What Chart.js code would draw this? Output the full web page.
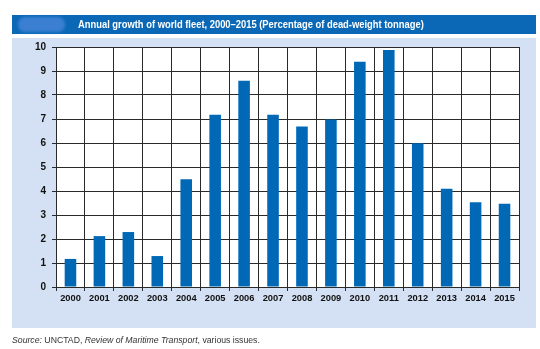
<!DOCTYPE html>
<html>
<head>
<meta charset="utf-8">
<script src="https://cdn.jsdelivr.net/npm/chart.js@4"></script>
<style>
  html, body { margin: 0; padding: 0; background: #ffffff; }
  body { width: 540px; height: 349px; position: relative; overflow: hidden; }
  #panel { position: absolute; left: 12px; top: 38px; width: 524px; height: 290px; background: #d4e0f3; }
  #titlebar { position: absolute; left: 12px; top: 15px; width: 524px; height: 19px; background: #0a68b6; }
  #blob { position: absolute; left: 18px; top: 17px; width: 47px; height: 15px; background: #3b7fd2; border-radius: 7px; filter: blur(1.5px); }
  #title { position: absolute; left: 78px; top: 15px; height: 19px; line-height: 19px; color: #ffffff;
           font-family: "Liberation Sans", Arial, sans-serif; font-weight: bold; font-size: 11.5px; white-space: nowrap;
           transform: scaleX(0.815); transform-origin: 0 50%; }
  #source { position: absolute; left: 12px; top: 335px; color: #333333;
            font-family: "Liberation Sans", Arial, sans-serif; font-size: 8.7px; white-space: nowrap; }
  #wrap { position: absolute; left: 0; top: 0; width: 540px; height: 349px; }
</style>
</head>
<body>
<div id="panel"></div>
<div id="titlebar"></div>
<div id="blob"></div>
<div id="title">Annual growth of world fleet, 2000–2015 (Percentage of dead-weight tonnage)</div>
<div id="wrap"><canvas id="c" width="540" height="349"></canvas></div>
<div id="source"><i>Source:</i> UNCTAD, <i>Review of Maritime Transport</i>, various issues.</div>
<script>
const years = ["2000","2001","2002","2003","2004","2005","2006","2007","2008","2009","2010","2011","2012","2013","2014","2015"];
const growth = [1.17, 2.12, 2.29, 1.29, 4.49, 7.18, 8.59, 7.18, 6.69, 6.98, 9.39, 9.87, 5.99, 4.09, 3.53, 3.47];
const yTicks = [0,1,2,3,4,5,6,7,8,9,10];

const chartAreaBg = {
  id: 'chartAreaBg',
  beforeDraw(chart) {
    const {ctx, chartArea: a} = chart;
    ctx.save();
    ctx.fillStyle = '#ffffff';
    ctx.fillRect(a.left, a.top, a.right - a.left, a.bottom - a.top);
    ctx.restore();
  }
};

new Chart(document.getElementById('c'), {
  type: 'bar',
  data: {
    labels: years,
    datasets: [{
      data: growth,
      backgroundColor: '#0068b5',
      borderWidth: 0,
      barPercentage: 0.4,
      categoryPercentage: 1.0
    }]
  },
  options: {
    responsive: false,
    animation: false,
    devicePixelRatio: 1,
    layout: { padding: { left: 0, right: 21, top: 47, bottom: 42 } },
    plugins: { legend: { display: false }, tooltip: { enabled: false }, title: { display: false } },
    scales: {
      x: {
        offset: true,
        afterFit(axis) { axis.height = 20; },
        grid: { offset: true, color: '#2a2a2a', lineWidth: 1, drawTicks: true, tickLength: 4, tickColor: '#2a2a2a' },
        border: { color: '#2a2a2a', width: 1 },
        ticks: { color: '#111111', padding: 2, maxRotation: 0, minRotation: 0, autoSkip: false,
                 font: { family: '"Liberation Sans", Arial', weight: 'bold', size: 9.3 } }
      },
      y: {
        min: 0, max: 10,
        afterBuildTicks(axis) { axis.ticks = yTicks.map(v => ({ value: v })); },
        afterFit(axis) { axis.width = 56; },
        grid: { color: '#2a2a2a', lineWidth: 1, drawTicks: true, tickLength: 4, tickColor: '#2a2a2a' },
        border: { color: '#2a2a2a', width: 1 },
        ticks: { color: '#111111', padding: 6,
                 font: { family: '"Liberation Sans", Arial', weight: 'bold', size: 10 } }
      }
    }
  },
  plugins: [chartAreaBg]
});
</script>
</body>
</html>
